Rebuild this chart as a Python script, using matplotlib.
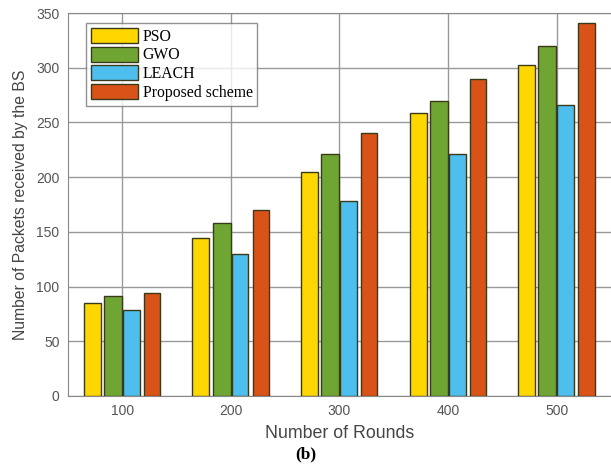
import numpy as np
import matplotlib
matplotlib.use('Agg')
import matplotlib.pyplot as plt

rounds = [100, 200, 300, 400, 500]
pso = [85, 144, 205, 259, 303]
gwo = [91, 158, 221, 270, 320]
leach = [79, 130, 178, 221, 266]
proposed = [94, 170, 240, 290, 341]

labels = ['PSO', 'GWO', 'LEACH', 'Proposed scheme']
colors = ['#FFD700', '#6FA532', '#4DBEEE', '#D95319']
series = [pso, gwo, leach, proposed]
offsets = [-27.5, -8.5, 8.5, 27.5]
widths = [15.5, 16.5, 15.5, 15]

fig = plt.figure(figsize=(6.11, 4.68), dpi=100)
ax = fig.add_axes([0.111, 0.154, 0.889, 0.818])

x = np.array(rounds)
for vals, off, w, c, lab in zip(series, offsets, widths, colors, labels):
    ax.bar(x + off, vals, width=w, color=c, edgecolor='#3a3a1a', linewidth=1.0,
           label=lab, zorder=3)

ax.set_xlim(50, 550)
ax.set_ylim(0, 350)
ax.set_xticks(rounds)
ax.set_yticks(range(0, 351, 50))
ax.grid(True, color='#999999', linewidth=1.0, zorder=0)
ax.tick_params(colors='#555555', labelsize=10, length=0, pad=6)
for s in ['left', 'top', 'bottom']:
    ax.spines[s].set_color('#888888')
ax.spines['right'].set_visible(False)

ax.set_ylabel('Number of Packets received by the BS', fontsize=11.3, color='#444444',
              family='Liberation Sans', labelpad=6)
ax.set_xlabel('Number of Rounds', fontsize=12.8, color='#444444', family='Liberation Sans',
              labelpad=5)
for t in ax.get_xticklabels() + ax.get_yticklabels():
    t.set_family('Liberation Sans')

leg = ax.legend(loc='upper left', bbox_to_anchor=(0.034, 0.974), borderaxespad=0,
                prop={'family': 'Liberation Serif', 'size': 11.3},
                frameon=True, fancybox=False, edgecolor='#777777', handlelength=3.0,
                handleheight=1.1, labelspacing=0.12, borderpad=0.3, handletextpad=0.3)
leg.get_frame().set_linewidth(1.0)

fig.text(0.5, 0.02, '(b)', ha='center', fontsize=12.5, fontweight='bold', family='Liberation Serif')

fig.savefig('out.png', dpi=100)
